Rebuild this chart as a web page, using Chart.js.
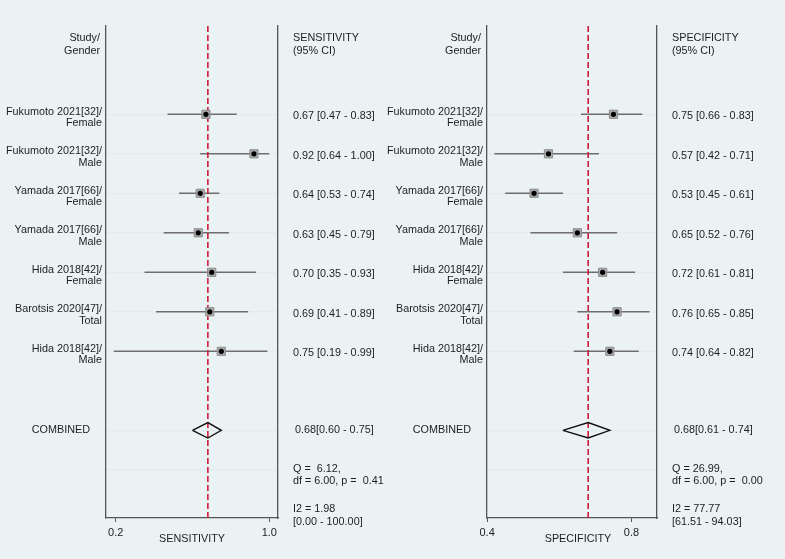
<!DOCTYPE html>
<html>
<head>
<meta charset="utf-8">
<script src="https://cdn.jsdelivr.net/npm/chart.js@4.4.0/dist/chart.umd.min.js"></script>
<style>
  body { margin: 0; background: #eaf2f3; }
  #wrap { position: relative; width: 785px; height: 559px; }
  canvas { position: absolute; top: 0; }
</style>
</head>
<body>
<div id="wrap">
  <canvas id="sens" style="left:0px"></canvas>
  <canvas id="spec" style="left:380px"></canvas>
</div>
<script>
const studies = ["Fukumoto 2021[32]/", "Fukumoto 2021[32]/", "Yamada 2017[66]/", "Yamada 2017[66]/",
  "Hida 2018[42]/", "Barotsis 2020[47]/", "Hida 2018[42]/"];
const groups = ["Female", "Male", "Female", "Male", "Female", "Total", "Male"];

const sensEst  = [0.67, 0.92, 0.64, 0.63, 0.70, 0.69, 0.75];
const sensLow  = [0.47, 0.64, 0.53, 0.45, 0.35, 0.41, 0.19];
const sensHigh = [0.83, 1.00, 0.74, 0.79, 0.93, 0.89, 0.99];
const sensCombined = [0.68, 0.60, 0.75];   // estimate, low, high
const sensStats = ["Q =  6.12,", "df = 6.00, p =  0.41", "I2 = 1.98", "[0.00 - 100.00]"];
const sensTicks = [0.2, 1.0];

const specEst  = [0.75, 0.57, 0.53, 0.65, 0.72, 0.76, 0.74];
const specLow  = [0.66, 0.42, 0.45, 0.52, 0.61, 0.65, 0.64];
const specHigh = [0.83, 0.71, 0.61, 0.76, 0.81, 0.85, 0.82];
const specCombined = [0.68, 0.61, 0.74];
const specStats = ["Q = 26.99,", "df = 6.00, p =  0.00", "I2 = 77.77", "[61.51 - 94.03]"];
const specTicks = [0.4, 0.8];

const rows = [1, 2, 3, 4, 5, 6, 7];
const combinedRow = 9;
const statsRow = 10;
const headerRow = -0.78;

const FONT = '"Liberation Sans", Arial, sans-serif';
const TXT = '#1e1e1e';

function fmt(v) { return v.toFixed(2); }

const textPlugin = {
  id: 'forestText',
  afterDraw(chart, args, opts) {
    const ctx = chart.ctx;
    const y = chart.scales.y;
    const area = chart.chartArea;
    const labX = area.left - 4;
    const valX = area.right + 15;
    ctx.save();
    ctx.fillStyle = TXT;
    ctx.font = '10.8px ' + FONT;
    ctx.textBaseline = 'middle';

    // header
    let hy = y.getPixelForValue(headerRow);
    ctx.textAlign = 'right';
    ctx.fillText('Study/', labX - 2, hy - 5.5);
    ctx.fillText('Gender', labX - 2, hy + 7);
    ctx.textAlign = 'left';
    ctx.fillText(opts.title, valX, hy - 5.5);
    ctx.fillText('(95% CI)', valX, hy + 7);

    // studies
    rows.forEach((r, i) => {
      const py = y.getPixelForValue(r);
      ctx.textAlign = 'right';
      ctx.fillText(studies[i], labX, py - 2.5);
      ctx.fillText(groups[i], labX, py + 9);
      ctx.textAlign = 'left';
      ctx.fillText(fmt(opts.est[i]) + ' [' + fmt(opts.low[i]) + ' - ' + fmt(opts.high[i]) + ']', valX, py + 2);
    });

    // combined
    const cy = y.getPixelForValue(combinedRow);
    const c = opts.combined;
    ctx.textAlign = 'right';
    ctx.fillText('COMBINED', area.left - 16, cy);
    ctx.textAlign = 'left';
    ctx.fillText(fmt(c[0]) + '[' + fmt(c[1]) + ' - ' + fmt(c[2]) + ']', valX + 2, cy);

    // heterogeneity stats
    const sy = y.getPixelForValue(statsRow);
    const s = opts.stats;
    ctx.fillText(s[0], valX, sy - 0.5);
    ctx.fillText(s[1], valX, sy + 11.5);
    ctx.fillText(s[2], valX, sy + 39.5);
    ctx.fillText(s[3], valX, sy + 52);

    // x-axis title
    ctx.textAlign = 'center';
    ctx.fillText(opts.title, (area.left + area.right) / 2 + opts.titleShift, area.bottom + 21);
    ctx.restore();
  }
};

function makeForest(canvasId, w, padLeft, padRight, xMin, xMax, ticks, title, est, low, high, combined, stats, titleShift) {
  const cv = document.getElementById(canvasId);
  cv.width = w; cv.height = 559;
  cv.style.width = w + 'px'; cv.style.height = '559px';

  const ciData = [];
  rows.forEach((r, i) => {
    ciData.push({ x: low[i], y: r }, { x: high[i], y: r }, { x: est[i], y: null });
  });
  const pts = rows.map((r, i) => ({ x: est[i], y: r }));
  const dh = 0.195;
  const diamond = [
    { x: combined[1], y: combinedRow }, { x: combined[0], y: combinedRow - dh },
    { x: combined[2], y: combinedRow }, { x: combined[0], y: combinedRow + dh },
    { x: combined[1], y: combinedRow }
  ];
  const yMin = -1.235, yMax = 11.22;
  const refLine = [{ x: combined[0], y: yMin }, { x: combined[0], y: yMax }];

  return new Chart(cv, {
    type: 'scatter',
    data: {
      datasets: [
        { data: pts, pointStyle: 'circle', pointRadius: 2.6, backgroundColor: '#000', borderWidth: 0, order: 0 },
        { data: pts, pointStyle: 'rect', pointRadius: 5.8, backgroundColor: '#a8a8a8', borderColor: '#8e8e8e', borderWidth: 1, order: 1 },
        { data: diamond, showLine: true, borderColor: '#111', borderWidth: 1.4, pointRadius: 0, order: 2 },
        { data: refLine, showLine: true, borderColor: '#d11a3c', borderWidth: 1.6, borderDash: [6, 3], pointRadius: 0, order: 3 },
        { data: ciData, showLine: true, spanGaps: false, borderColor: '#6e6e6e', borderWidth: 1.6, pointRadius: 0, order: 4 }
      ]
    },
    options: {
      responsive: false,
      animation: false,
      events: [],
      layout: { padding: { left: padLeft, right: padRight, top: 26, bottom: 0 } },
      plugins: {
        legend: { display: false },
        tooltip: { enabled: false },
        forestText: { title, est, low, high, combined, stats, titleShift }
      },
      scales: {
        x: {
          type: 'linear', position: 'bottom', min: xMin, max: xMax,
          afterBuildTicks: (axis) => { axis.ticks = ticks.map(v => ({ value: v })); },
          afterFit: (axis) => { axis.height = 41; },
          ticks: { color: TXT, font: { family: FONT, size: 11 }, padding: 4, maxRotation: 0, autoSkip: false,
                   callback: (v) => v.toFixed(1) },
          grid: { drawOnChartArea: false, drawTicks: true, tickLength: 4, color: '#555' },
          border: { display: true, color: '#555', width: 1.3 }
        },
        y: {
          type: 'linear', position: 'left', reverse: true, min: yMin, max: yMax,
          afterBuildTicks: (axis) => { axis.ticks = rows.concat([combinedRow, statsRow]).map(v => ({ value: v })); },
          afterFit: (axis) => { axis.width = 0; },
          ticks: { display: false },
          grid: { drawTicks: false, color: '#e3edef', lineWidth: 1.4 },
          border: { display: true, color: '#555', width: 1.3 }
        },
        y2: {
          type: 'linear', position: 'right', reverse: true, min: yMin, max: yMax,
          afterFit: (axis) => { axis.width = 0; },
          ticks: { display: false },
          grid: { drawOnChartArea: false, drawTicks: false },
          border: { display: true, color: '#555', width: 1.3 }
        }
      }
    },
    plugins: [textPlugin]
  });
}

makeForest('sens', 392, 106, 114, 0.1495, 1.0453, sensTicks, 'SENSITIVITY',
  sensEst, sensLow, sensHigh, sensCombined, sensStats, 0);
makeForest('spec', 405, 107, 128, 0.3997, 0.8706, specTicks, 'SPECIFICITY',
  specEst, specLow, specHigh, specCombined, specStats, 6);
</script>
</body>
</html>
